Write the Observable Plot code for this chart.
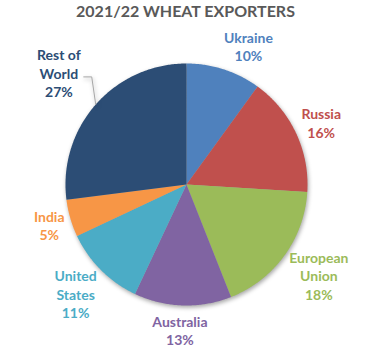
<!DOCTYPE html>
<html><head><meta charset="utf-8">
<script src="https://cdn.jsdelivr.net/npm/d3@7"></script>
<script src="https://cdn.jsdelivr.net/npm/@observablehq/plot@0.6"></script>
<style>
body{margin:0;background:#fff;font-family:Lato,"Open Sans",sans-serif;width:387px;height:360px;overflow:hidden}
#title{height:28px;margin:0;font:bold 16px Lato,sans-serif;color:#595959;text-align:center;line-height:21px;padding-right:16px}
#chart svg{display:block}
#chart g[aria-label="line"]{filter:drop-shadow(1px 2px 2px rgba(0,0,0,0.35))}
</style></head>
<body>
<div id="title">2021/22 WHEAT EXPORTERS</div>
<div id="chart"></div>
<script>
const exporters = ["Ukraine","Russia","European Union","Australia","United States","India","Rest of World"];
const shares = [10, 16, 18, 13, 11, 5, 27];
const labelLines = ["Ukraine","Russia","European\nUnion","Australia","United\nStates","India","Rest of\nWorld"];
const sliceColors = ["#4F81BD","#C0504D","#9BBB59","#8064A2","#4BACC6","#F79646","#2C4D75"];
const labelColors = ["#4F81BD","#C0504D","#9BBB59","#8064A2","#4BACC6","#F79646","#2C4D75"];
const leaderFor = ["Rest of World"];

const W = 387, H = 332, R = 121, CX = 186, CY = 156;
const total = d3.sum(shares);
const pie = d3.pie().sort(null).value(d => d)(shares);

// slice polygons (angles clockwise from 12 o'clock)
const pts = [];
pie.forEach((p, i) => {
  const name = exporters[i];
  pts.push({name, x: 0, y: 0});
  const n = Math.max(2, Math.ceil((p.endAngle - p.startAngle) / 0.01));
  for (let k = 0; k <= n; k++) {
    const a = p.startAngle + (p.endAngle - p.startAngle) * k / n;
    pts.push({name, x: R * Math.sin(a), y: R * Math.cos(a)});
  }
});

// label layout
const FS = 14;
const ctx = document.createElement("canvas").getContext("2d");
ctx.font = "bold " + FS + "px Lato";
const LH = 18.5;
const labels = pie.map((p, i) => {
  const a = (p.startAngle + p.endAngle) / 2;
  const lines = labelLines[i].split("\n").concat([Math.round(shares[i] / total * 100) + "%"]);
  const w = d3.max(lines, l => ctx.measureText(l).width);
  const h = lines.length * LH;
  const lead = leaderFor.includes(exporters[i]);
  const r = R + 6 + (lead ? 14 : 0);
  const px = r * Math.sin(a), py = r * Math.cos(a);
  const cx = px + Math.max(-1, Math.min(1, 3 * Math.sin(a))) * w / 2;
  const cy = py + Math.cos(a) * h / 2;
  return {name: exporters[i], text: lines.join("\n"), x: cx, y: cy, w, h, a, lead};
});
const leaders = [];
labels.filter(l => l.lead).forEach(l => {
  const ex = l.x + l.w / 2 + 3, ey = l.y - 4;
  leaders.push({name: l.name, x: R * Math.sin(l.a), y: R * Math.cos(l.a)});
  leaders.push({name: l.name, x: ex + 8, y: ey});
  leaders.push({name: l.name, x: ex, y: ey});
});

const chart = Plot.plot({
  width: W, height: H,
  marginTop: 0, marginRight: 0, marginBottom: 0, marginLeft: 0,
  x: {domain: [-CX, W - CX], axis: null},
  y: {domain: [-(H - CY), CY], axis: null},
  color: {domain: exporters, range: sliceColors},
  style: {fontFamily: "Lato, sans-serif", background: "#fff"},
  marks: [
    Plot.line(pts, {x: "x", y: "y", z: "name", fill: "name", stroke: "none", curve: "linear-closed"}),
    Plot.line(leaders, {x: "x", y: "y", z: "name", stroke: "#A6A6A6", strokeWidth: 1}),
    Plot.text(labels, {x: "x", y: "y", text: "text", fill: (d) => labelColors[exporters.indexOf(d.name)],
      fontSize: FS, fontWeight: "bold", lineHeight: LH / FS, textAnchor: "middle", lineAnchor: "middle"})
  ]
});
document.getElementById("chart").appendChild(chart);
</script>
</body></html>
